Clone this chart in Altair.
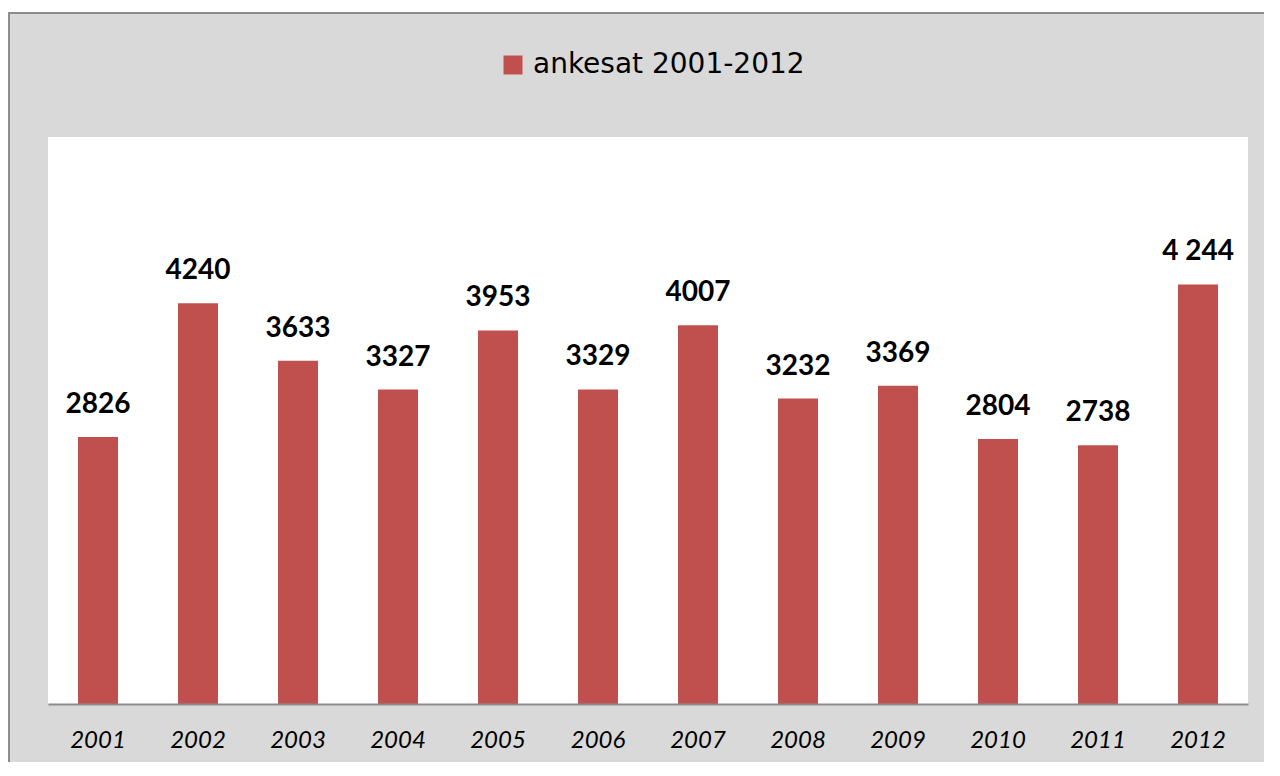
import altair as alt
import pandas as pd

years = ["2001", "2002", "2003", "2004", "2005", "2006", "2007", "2008", "2009", "2010", "2011", "2012"]
bar_values = [2826, 4240, 3633, 3327, 3953, 3329, 4007, 3232, 3369, 2804, 2738, 4440]
label_texts = ["2826", "4240", "3633", "3327", "3953", "3329", "4007", "3232", "3369", "2804", "2738", "4 244"]
series_name = "ankesat 2001-2012"

df = pd.DataFrame({"year": years, "value": bar_values, "label": label_texts, "series": [series_name] * len(years)})
one = pd.DataFrame({"a": [0]})

W, H = 1200, 567

frame = alt.Chart(one).mark_rect(fill="#d9d9d9", stroke="#8c8c8c", strokeWidth=2, clip=False).encode(
    x=alt.value(-39), x2=alt.value(1260), y=alt.value(-124), y2=alt.value(660)
)
plotbg = alt.Chart(one).mark_rect(fill="#ffffff", clip=False).encode(
    x=alt.value(0), x2=alt.value(W), y=alt.value(0), y2=alt.value(H)
)

xenc = alt.X("year:N", sort=years, title=None,
             scale=alt.Scale(paddingInner=0.6, paddingOuter=0.3),
             axis=alt.Axis(labelAngle=0, labelFont="Lato", labelFontStyle="italic", labelFontSize=24,
                           labelColor="#000000", ticks=False, labelPadding=24, domainColor="#8c8c8c",
                           domainWidth=2, zindex=1))
yenc = alt.Y("value:Q", scale=alt.Scale(domain=[0, 6000]), axis=None)

bars = alt.Chart(df).mark_bar(color="#c0504d").encode(
    x=xenc, y=yenc,
    color=alt.Color("series:N", scale=alt.Scale(range=["#c0504d"]),
                    legend=alt.Legend(title=None, orient="none", legendX=451, legendY=-86,
                                      symbolType="square", symbolSize=361, symbolStrokeWidth=0,
                                      labelFont="DejaVu Sans", labelFontSize=28, labelColor="#000000",
                                      labelLimit=0, padding=0, zindex=1, labelOffset=6))
)
labels = alt.Chart(df).mark_text(font="Lato", fontWeight="bold", fontSize=28, color="#000000",
                                 baseline="alphabetic", dy=-24).encode(
    x=alt.X("year:N", sort=years), y=alt.Y("value:Q"), text="label:N"
)

chart = alt.layer(frame, plotbg, bars, labels).properties(
    width=W, height=H,
    autosize=alt.AutoSizeParams(type="none"),
    padding={"left": 40, "right": 16, "top": 129, "bottom": 58},
    background="#ffffff",
).configure_view(strokeWidth=0)

chart.save("out.html", embed_options={"renderer": "svg", "actions": False})
